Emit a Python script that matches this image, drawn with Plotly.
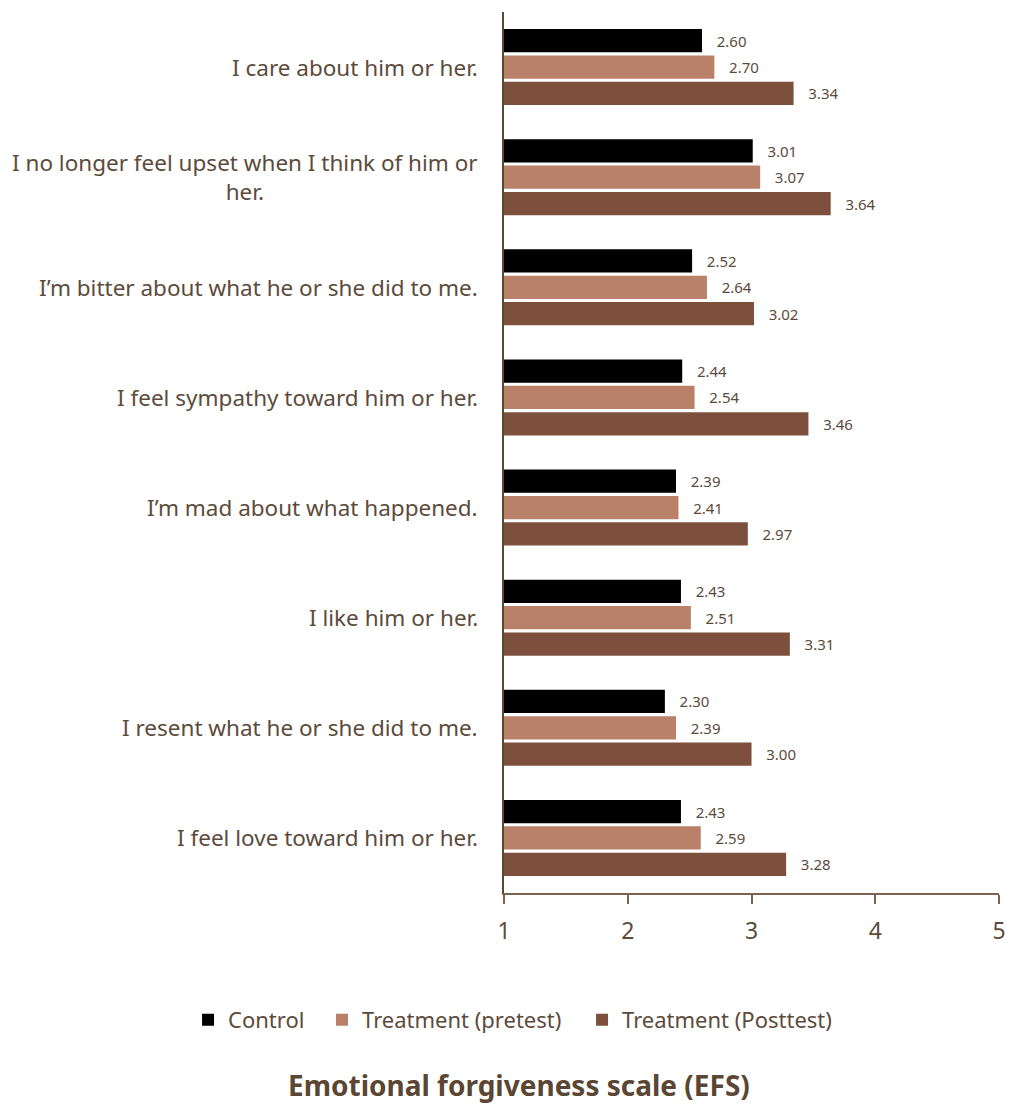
import plotly.graph_objects as go

categories = [
    "I care about him or her.",
    "I no longer feel upset when I think of him or<br>her.",
    "I\u2019m bitter about what he or she did to me.",
    "I feel sympathy toward him or her.",
    "I\u2019m mad about what happened.",
    "I like him or her.",
    "I resent what he or she did to me.",
    "I feel love toward him or her.",
]
control = [2.60, 3.01, 2.52, 2.44, 2.39, 2.43, 2.30, 2.43]
pretest = [2.70, 3.07, 2.64, 2.54, 2.41, 2.51, 2.39, 2.59]
posttest = [3.34, 3.64, 3.02, 3.46, 2.97, 3.31, 3.00, 3.28]
x_ticks = [1, 2, 3, 4, 5]

TEXT = "#5C4B3B"
AXIS = "#7A6350"
FONT = "Noto Sans, Open Sans, sans-serif"

n = len(categories)
ypos = list(range(n - 1, -1, -1))  # first category at top

series = [
    ("Treatment (Posttest)", posttest, "#7C503D", "legend3"),
    ("Treatment (pretest)", pretest, "#B9816A", "legend2"),
    ("Control", control, "#000000", "legend"),
]

fig = go.Figure()
for name, vals, col, lg in series:
    fig.add_trace(go.Bar(
        y=ypos, x=vals, name=name, orientation="h", legend=lg,
        marker=dict(color=col, line=dict(width=0)),
        text=[f"{v:.2f}" for v in vals],
        texttemplate="\u00a0\u00a0\u00a0%{text}",
        textposition="outside",
        textfont=dict(size=15, color=TEXT, family=FONT),
        cliponaxis=False,
    ))

for c, yy in zip(categories, ypos):
    fig.add_annotation(
        x=0, xref="paper", y=yy, yref="y", text=c, showarrow=False,
        xanchor="right", xshift=-24, align="center",
        font=dict(size=22.5, color=TEXT, family=FONT),
    )

fig.add_annotation(
    x=0.03, xref="paper", xanchor="center", y=-0.218, yref="paper",
    yanchor="middle",
    text="<b>Emotional forgiveness scale (EFS)</b>", showarrow=False,
    font=dict(size=28, color="#5A4632", family=FONT),
)

def legend_at(xc):
    return dict(orientation="h", x=xc, xref="container", xanchor="left",
                y=-0.144, yanchor="middle", itemwidth=30,
                bgcolor="rgba(0,0,0,0)",
                font=dict(size=22, color=TEXT, family=FONT))

fig.update_layout(
    width=1011, height=1105,
    margin=dict(l=504, r=12, t=12, b=212, autoexpand=False),
    paper_bgcolor="white", plot_bgcolor="white",
    barmode="group", bargap=0.28, bargroupgap=0.12,
    font=dict(family=FONT, color=TEXT),
    showlegend=True,
    legend=legend_at(0.186),
    legend2=legend_at(0.3185),
    legend3=legend_at(0.5757),
    xaxis=dict(range=[1, 5], tickvals=x_ticks, ticks="outside", ticklen=9,
               tickcolor=AXIS, tickwidth=1.5, showline=True, linecolor=AXIS,
               linewidth=1.5, showgrid=False, zeroline=False,
               ticklabelstandoff=8,
               tickfont=dict(size=23, color=TEXT, family=FONT)),
    yaxis=dict(range=[-0.5, n - 0.5], showticklabels=False, showline=True,
               linecolor="#5A4632", linewidth=1.5, showgrid=False,
               zeroline=False, ticks=""),
)

fig.write_html("out.html", config={"displayModeBar": False},
               post_script="document.body.style.margin='0';")
